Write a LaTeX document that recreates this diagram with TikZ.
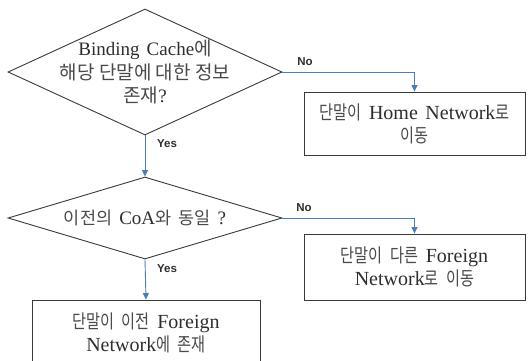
\documentclass[tikz,border=0pt]{standalone}
\usepackage{fontspec}
\setmainfont[WordSpace=1.5]{Liberation Serif}
\setsansfont{Liberation Sans}
\newfontfamily\krwide{Noto Sans CJK KR}
\newfontfamily\krmid[Scale=0.92,WordSpace=1.8]{Noto Sans CJK KR}
\newfontfamily\krnarrow[Scale=0.95,FakeStretch=0.8,WordSpace=2.2]{Noto Sans CJK KR}
\usetikzlibrary{shapes.geometric,arrows.meta}
\definecolor{flowblue}{HTML}{4A7EBB}
\definecolor{edgegray}{HTML}{3A3A3A}
\definecolor{ink}{HTML}{2E2E2E}
\definecolor{hangul}{HTML}{4A4A4A}
\newcommand\hwide[1]{{\krwide\color{hangul}#1}}
\newcommand\hmid[1]{{\krmid\color{hangul}#1}}
\newcommand\hnarrow[1]{{\krnarrow\color{hangul}#1}}
\begin{document}
\begin{tikzpicture}[x=1pt,y=-1pt,
  decision/.style={draw=edgegray, line width=0.9pt, shape=diamond, inner sep=0pt},
  outcome/.style={draw=edgegray, line width=0.9pt, rectangle, inner sep=0pt,
    align=center, font=\fontsize{20}{23}\selectfont, text=ink},
  caption/.style={align=center, font=\fontsize{19}{23.5}\selectfont, text=ink, inner sep=0pt},
  flow/.style={draw=flowblue, line width=0.9pt, -{Triangle[width=6pt,length=6.5pt]}},
  answer/.style={font=\sffamily\bfseries\fontsize{11.5}{12}\selectfont, text=ink, inner sep=0pt}]
  \clip (0,0) rectangle (528,360);
  \fill[white] (0,0) rectangle (528,360);

  % decisions
  \node[decision, minimum width=274pt, minimum height=126pt] (d1) at (145,72) {};
  \node[caption] (q1) at (d1) {Binding Cache\hwide{에}\\ \hwide{해당 단말에 대한 정보}\\ \hwide{존재}?};
  \node[decision, minimum width=274pt, minimum height=82pt] (d2) at (145,218) {};
  \node[caption] (q2) at (d2) {\hmid{이전의} CoA\hmid{와 동일} ?};

  % outcomes
  \node[outcome, minimum width=221pt, minimum height=63pt] (b1) at (414.5,123.5)
    {\hnarrow{단말이} Home Network\hnarrow{로}\\ \hnarrow{이동}};
  \node[outcome, minimum width=221pt, minimum height=66pt] (b2) at (414.5,267)
    {\hnarrow{단말이 다른} Foreign\\ Network\hnarrow{로 이동}};
  \node[outcome, minimum width=228pt, minimum height=65pt] (b3) at (146,332.5)
    {\hnarrow{단말이 이전} Foreign\\ Network\hnarrow{에 존재}};

  % connectors
  \draw[flow] (d1.east) -| (b1.north);
  \draw[flow] (d1.south) -- (d2.north);
  \draw[flow] (d2.east) -| (b2.north);
  \draw[flow] (d2.south) -- (b3.north);

  % branch labels
  \node[answer] (no1) at (305,62) {No};
  \node[answer] (yes1) at (167,144) {Yes};
  \node[answer] (no2) at (304,208) {No};
  \node[answer] (yes2) at (167,269) {Yes};
\end{tikzpicture}
\end{document}
